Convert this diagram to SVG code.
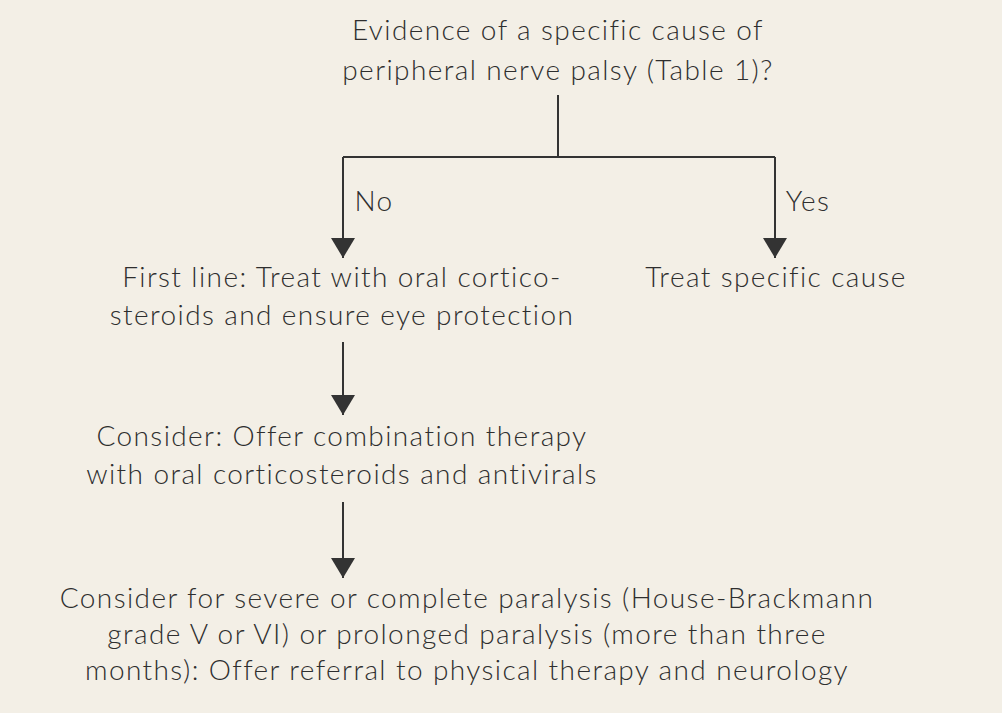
<svg xmlns="http://www.w3.org/2000/svg" width="1002" height="713" viewBox="0 0 1002 713">
<style>
text{font-family:Lato,"Open Sans","Liberation Sans",sans-serif;font-size:28px;font-weight:300;letter-spacing:1.4px;fill:#2e2e2e;text-anchor:middle}
.l{fill:none;stroke:#333;stroke-width:2}
</style>
<defs>
<marker id="b" viewBox="0 0 20 24" markerWidth="20" markerHeight="24" refX="20" refY="12" orient="auto" markerUnits="userSpaceOnUse"><path d="M0,0L20,12L0,24z" fill="#333"/></marker></defs>
<rect width="1002" height="713" fill="#f3efe6"/>
<g id="connectors">
<path class="l" d="M558,95V157M343,157H775"/>
<path class="l" d="M343,157V258" marker-end="url(#b)"/>
<path class="l" d="M775,157V258" marker-end="url(#b)"/>
<path class="l" d="M343,342V415" marker-end="url(#b)"/>
<path class="l" d="M343,502V578" marker-end="url(#b)"/>
<text x="374" y="211">No</text>
<text x="808" y="211">Yes</text>
</g>
<g id="n1"><text x="558" y="40">Evidence of a specific cause of</text><text x="558" y="80">peripheral nerve palsy (Table 1)?</text></g>
<g id="n2"><text x="342" y="287">First line: Treat with oral cortico-</text><text x="342" y="325">steroids and ensure eye protection</text></g>
<g id="n3"><text x="776" y="287">Treat specific cause</text></g>
<g id="n4"><text x="342" y="446">Consider: Offer combination therapy</text><text x="342" y="484">with oral corticosteroids and antivirals</text></g>
<g id="n5"><text x="467" y="608">Consider for severe or complete paralysis (House-Brackmann</text><text x="467" y="644">grade V or VI) or prolonged paralysis (more than three</text><text x="467" y="680">months): Offer referral to physical therapy and neurology</text></g>
</svg>
